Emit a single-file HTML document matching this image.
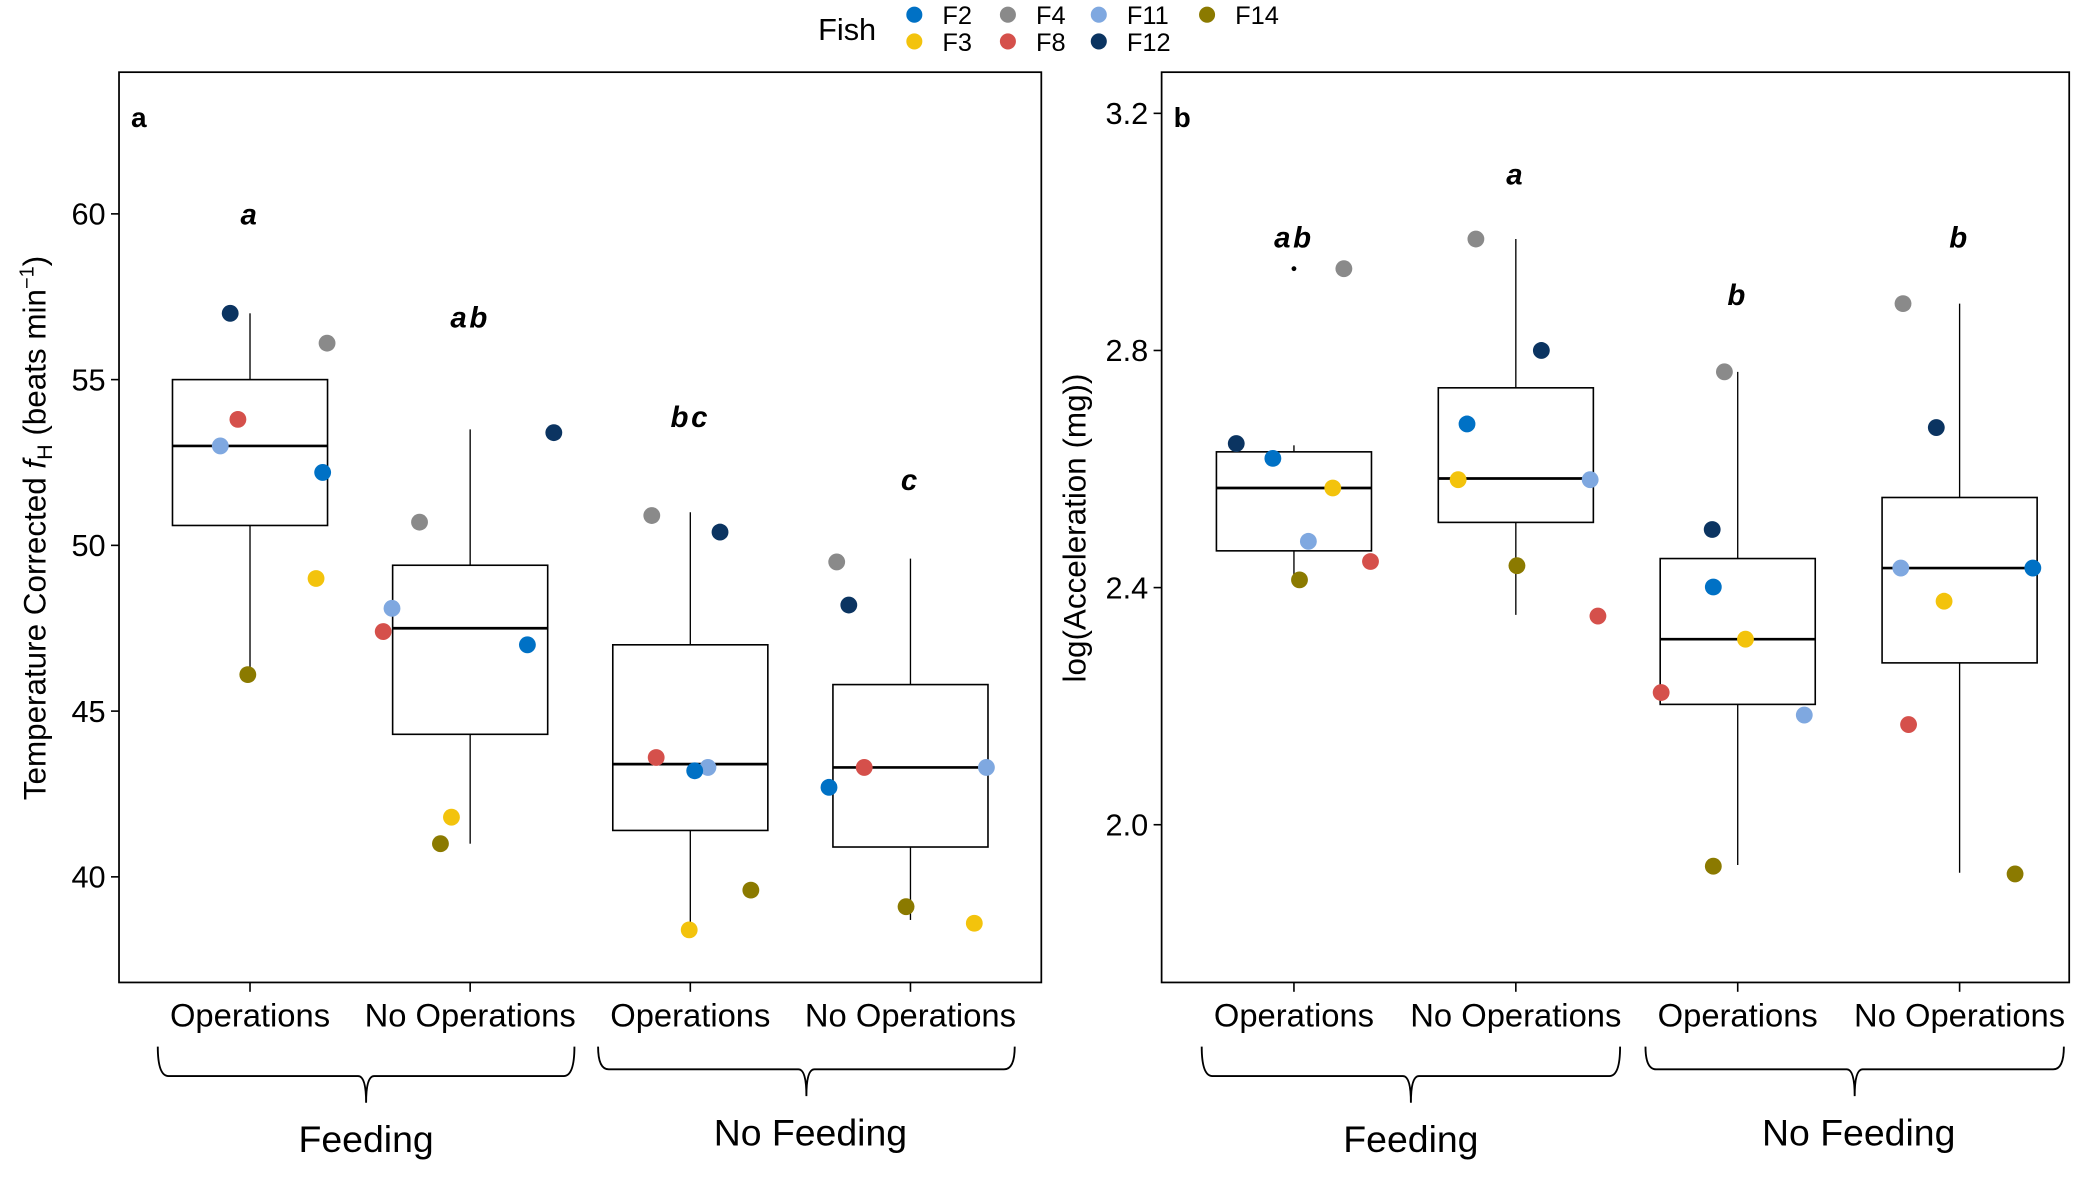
<!DOCTYPE html>
<html><head><meta charset="utf-8"><style>
html,body{margin:0;padding:0;background:#fff;}
svg{display:block;font-family:"Liberation Sans",Arial,sans-serif;}
</style></head><body>
<svg id="chart" width="2096" height="1178" viewBox="0 0 1568 881.3" xmlns="http://www.w3.org/2000/svg">
<rect width="1568" height="881.3" fill="#fff"/>
<g id="legend"></g>
<g id="pa"></g>
<g id="pb"></g>
</svg>
<script>
const categories = ["Operations","No Operations","Operations","No Operations"];
const groups = ["Feeding","No Feeding"];
const fishIds = ["F2","F3","F4","F8","F11","F12","F14"];
const fishColors = {F2:"#0071c5",F3:"#f3c30c",F4:"#8a8a8a",F8:"#d5504b",F11:"#7fa8e0",F12:"#0b3461",F14:"#8b7a00"};
// panel a: [lo whisker, q1, median, q3, hi whisker]
const boxesA = [[46.1,50.6,53.0,55.0,57.0],[41.0,44.3,47.5,49.4,53.5],[38.5,41.4,43.4,47.0,51.0],[38.7,40.9,43.3,45.8,49.6]];
const lettersA = ["a","ab","bc","c"];
const letterPosA = [60.0,56.9,53.9,52.0];
const yTicksA = [40,45,50,55,60];
// points: [fish, x-jitter (category units), value]
const pointsA = [
 [["F12",-0.09,57.0],["F4",0.35,56.1],["F8",-0.055,53.8],["F11",-0.135,53.0],["F2",0.33,52.2],["F3",0.30,49.0],["F14",-0.01,46.1]],
 [["F12",0.38,53.4],["F4",-0.23,50.7],["F11",-0.355,48.1],["F8",-0.395,47.4],["F2",0.26,47.0],["F3",-0.085,41.8],["F14",-0.135,41.0]],
 [["F4",-0.175,50.9],["F12",0.135,50.4],["F8",-0.155,43.6],["F11",0.08,43.3],["F2",0.02,43.2],["F14",0.275,39.6],["F3",-0.005,38.4]],
 [["F4",-0.335,49.5],["F12",-0.28,48.2],["F8",-0.21,43.3],["F11",0.345,43.3],["F2",-0.37,42.7],["F14",-0.02,39.1],["F3",0.29,38.6]]
];
const boxesB = [[2.41,2.462,2.568,2.629,2.64],[2.354,2.510,2.584,2.737,2.988],[1.932,2.203,2.313,2.449,2.764],[1.919,2.273,2.433,2.552,2.879]];
const outliersB = [[0,2.938]];
const lettersB = ["ab","a","b","b"];
const letterPosB = [2.992,3.098,2.895,2.992];
const yTicksB = [2.0,2.4,2.8,3.2];
const pointsB = [
 [["F4",0.225,2.938],["F12",-0.26,2.643],["F2",-0.095,2.618],["F3",0.175,2.568],["F11",0.065,2.478],["F8",0.345,2.444],["F14",0.025,2.413]],
 [["F4",-0.18,2.988],["F12",0.115,2.80],["F2",-0.22,2.676],["F3",-0.26,2.582],["F11",0.335,2.582],["F14",0.005,2.437],["F8",0.37,2.352]],
 [["F4",-0.06,2.764],["F12",-0.115,2.498],["F2",-0.11,2.401],["F3",0.035,2.313],["F8",-0.345,2.223],["F11",0.30,2.185],["F14",-0.11,1.930]],
 [["F4",-0.255,2.879],["F12",-0.105,2.670],["F11",-0.265,2.433],["F3",-0.07,2.377],["F8",-0.23,2.169],["F2",0.33,2.433],["F14",0.25,1.917]]
];
const NS="http://www.w3.org/2000/svg";
function mk(parent,tag,attrs,text){const e=document.createElementNS(NS,tag);for(const k in attrs)e.setAttribute(k,attrs[k]);if(text!==undefined)e.textContent=text;parent.appendChild(e);return e;}

function drawPanel(g,cfg){
  const {x0,x1,y0,y1,cx,step,yScale,boxes,points,letters,letterPos,ticks,fmt,tag,outliers}=cfg;
  const xs=i=>cx[0]+i*step;
  let e=mk(g,"rect",{x:x0,y:y0,width:x1-x0,height:y1-y0,fill:"none",stroke:"#000","stroke-width":1.3});
  
  
  e=mk(g,"text",{x:x0+9,y:y0+41,"font-size":21,"font-weight":"bold"},tag);
  
  
  ticks.forEach(t=>{const y=yScale(t);
    e=mk(g,"line",{x1:x0-6,x2:x0,y1:y,y2:y,stroke:"#000","stroke-width":1.2});
    
    
    e=mk(g,"text",{x:x0-10,y:y+8,"font-size":23,"text-anchor":"end"},fmt(t));
    
    
  });
  categories.forEach((c,i)=>{const x=xs(i);
    e=mk(g,"line",{x1:x,x2:x,y1:y1,y2:y1+7,stroke:"#000","stroke-width":1.2});
    
    
    e=mk(g,"text",{x:x,y:y1+33,"font-size":24.5,"text-anchor":"middle"},c);
    
    
  });
  boxes.forEach((b,i)=>{const x=xs(i),hw=58;
    const bg=mk(g,"g",{});
    
    
    mk(bg,"line",{x1:x,x2:x,y1:yScale(b[0]),y2:yScale(b[1]),stroke:"#000","stroke-width":1});
    mk(bg,"line",{x1:x,x2:x,y1:yScale(b[3]),y2:yScale(b[4]),stroke:"#000","stroke-width":1});
    mk(bg,"rect",{x:x-hw,y:yScale(b[3]),width:2*hw,height:yScale(b[1])-yScale(b[3]),fill:"#fff",stroke:"#000","stroke-width":1.2});
    mk(bg,"line",{x1:x-hw,x2:x+hw,y1:yScale(b[2]),y2:yScale(b[2]),stroke:"#000","stroke-width":2});
  });
  (outliers||[]).forEach(o=>{
    e=mk(g,"circle",{cx:xs(o[0]),cy:yScale(o[1]),r:1.8,fill:"#000"});
    
    
  });
  points.forEach((arr,i)=>arr.forEach(p=>{
    e=mk(g,"circle",{cx:xs(i)+p[1]*step,cy:yScale(p[2]),r:6.3,fill:fishColors[p[0]]});
    
    
  }));
  letters.forEach((l,i)=>{
    e=mk(g,"text",{x:xs(i),y:yScale(letterPos[i])+8,"font-size":22,"font-weight":"bold","font-style":"italic","text-anchor":"middle","letter-spacing":"2"},l);
    
    
  });
  [[0,1],[2,3]].forEach((pair,k)=>{
    const a=xs(pair[0])-69, bx=xs(pair[1])+78, m=(a+bx)/2, top=y1+48, by=y1+70-(k?5:0);
    e=mk(g,"path",{d:`M${a},${top} q0,${by-top} 8,${by-top} L${m-6},${by} q6,0 6,${20} q0,-20 6,-20 L${bx-8},${by} q8,0 8,-${by-top}`,fill:"none",stroke:"#000","stroke-width":1.4});
    
    
    e=mk(g,"text",{x:m+(k?3:0),y:k?y1+122:y1+127,"font-size":28,"text-anchor":"middle"},groups[k]);
    
    
  });
}
const yA=v=>656-(v-40)*24.8;
const yB=v=>617-(v-2)*443.5;
drawPanel(document.getElementById('pa'),{x0:89,x1:779,y0:54,y1:735,cx:[187],step:164.7,yScale:yA,boxes:boxesA,points:pointsA,letters:lettersA,letterPos:letterPosA,ticks:yTicksA,fmt:t=>String(t),tag:"a"});
drawPanel(document.getElementById('pb'),{x0:869,x1:1548,y0:54,y1:735,cx:[968],step:166,yScale:yB,boxes:boxesB,points:pointsB,letters:lettersB,letterPos:letterPosB,ticks:yTicksB,fmt:t=>t.toFixed(1),tag:"b",outliers:outliersB});
let t=mk(document.getElementById('pa'),"text",{transform:"translate(34,395) rotate(-90)","font-size":23.5,"text-anchor":"middle"});


t.innerHTML='Temperature Corrected <tspan font-style="italic">f</tspan><tspan font-size="16" dy="5">H</tspan><tspan dy="-5">  (beats min</tspan><tspan font-size="15" dy="-9">−1</tspan><tspan dy="9">)</tspan>';
t=mk(document.getElementById('pb'),"text",{transform:"translate(812,395) rotate(-90)","font-size":23.5,"text-anchor":"middle"},"log(Acceleration (mg))");


const lg=document.getElementById('legend');
t=mk(lg,"text",{x:612,y:30,"font-size":23},"Fish");


const legPos=[["F2",684,11],["F3",684,31],["F4",754,11],["F8",754,31],["F11",822,11],["F12",822,31],["F14",903,11]];
legPos.forEach(p=>{
  const eg=mk(lg,"g",{});
  
  
  mk(eg,"circle",{cx:p[1],cy:p[2],r:6,fill:fishColors[p[0]]});
  mk(eg,"text",{x:p[1]+21,y:p[2]+7,"font-size":19},p[0]);
});
</script>
</body></html>
